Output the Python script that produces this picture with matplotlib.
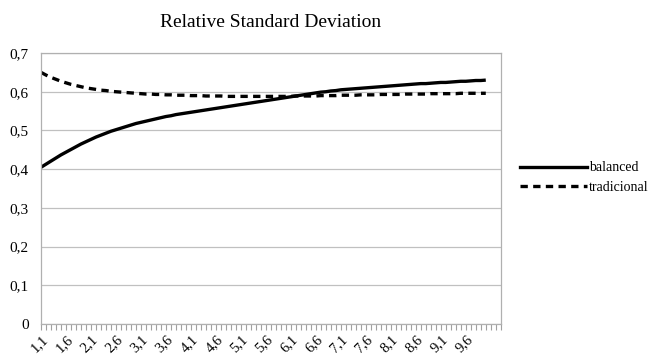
import matplotlib
matplotlib.use('Agg')
import matplotlib.pyplot as plt
from matplotlib.lines import Line2D

# -*- coding:utf-8 -*-

plt.rcParams['font.family'] = ['Liberation Serif', 'DejaVu Serif']

# categories 1,1 ... 10,0
categories = [('%.1f' % (k / 10.0)).replace('.', ',') for k in range(11, 101)]

balanced = [
    0.405, 0.413, 0.421, 0.429, 0.437, 0.444, 0.451, 0.458, 0.465, 0.471,
    0.477, 0.483, 0.488, 0.493, 0.498, 0.502, 0.506, 0.510, 0.514, 0.518,
    0.521, 0.524, 0.527, 0.530, 0.533, 0.536, 0.538, 0.541, 0.543, 0.545,
    0.547, 0.549, 0.551, 0.553, 0.555, 0.557, 0.559, 0.561, 0.563, 0.565,
    0.567, 0.569, 0.571, 0.573, 0.575, 0.577, 0.579, 0.581, 0.583, 0.585,
    0.587, 0.589, 0.591, 0.593, 0.595, 0.597, 0.599, 0.600, 0.602, 0.603,
    0.605, 0.606, 0.607, 0.608, 0.609, 0.610, 0.611, 0.612, 0.613, 0.614,
    0.615, 0.616, 0.617, 0.618, 0.619, 0.620, 0.621, 0.621, 0.622, 0.623,
    0.624, 0.624, 0.625, 0.626, 0.627, 0.627, 0.628, 0.629, 0.629, 0.630,
]

tradicional = [
    0.650, 0.643, 0.637, 0.632, 0.627, 0.623, 0.619, 0.616, 0.613, 0.610,
    0.608, 0.606, 0.604, 0.603, 0.601, 0.600, 0.599, 0.598, 0.597, 0.596,
    0.595, 0.594, 0.594, 0.593, 0.593, 0.592, 0.592, 0.591, 0.591, 0.591,
    0.590, 0.590, 0.590, 0.589, 0.589, 0.589, 0.589, 0.588, 0.588, 0.588,
    0.588, 0.588, 0.588, 0.588, 0.588, 0.588, 0.588, 0.588, 0.588, 0.588,
    0.588, 0.589, 0.589, 0.589, 0.589, 0.589, 0.590, 0.590, 0.590, 0.590,
    0.591, 0.591, 0.591, 0.591, 0.592, 0.592, 0.592, 0.592, 0.593, 0.593,
    0.593, 0.593, 0.593, 0.594, 0.594, 0.594, 0.594, 0.594, 0.595, 0.595,
    0.595, 0.595, 0.595, 0.595, 0.596, 0.596, 0.596, 0.596, 0.596, 0.596,
]

y_ticks = [0, 0.1, 0.2, 0.3, 0.4, 0.5, 0.6, 0.7]
y_labels = ['0', '0,1', '0,2', '0,3', '0,4', '0,5', '0,6', '0,7']

fig = plt.figure(figsize=(6.54, 3.63), dpi=100)
ax = fig.add_axes([0.0627, 0.107, 0.703, 0.747])

x = list(range(len(categories)))
ax.plot(x, balanced, color='black', linewidth=2.4, solid_capstyle='butt')
ax.plot(x, tradicional, color='black', linewidth=2.4, linestyle=(0, (2.2, 1.6)))

ax.set_xlim(0, 92)
ax.set_ylim(0, 0.7)

ax.set_yticks(y_ticks)
ax.set_yticklabels(y_labels, fontsize=11)
ax.tick_params(axis='y', length=0, pad=9)
ax.grid(axis='y', color='#c0c0c0', linewidth=0.9)
ax.set_axisbelow(True)

ax.set_xticks(range(0, 93))
ax.set_xticklabels([categories[i] if (i < len(categories) and i % 5 == 0) else '' for i in range(93)],
                   rotation=45, ha='right', rotation_mode='anchor', fontsize=10.5)
ax.tick_params(axis='x', length=4, color='#a0a0a0', width=0.8, pad=2)

for s in ax.spines.values():
    s.set_color('#b0b0b0')
    s.set_linewidth(0.9)

ax.set_title('Relative Standard Deviation', fontsize=14, pad=19)

handles = [Line2D([], [], color='black', linewidth=2.4),
           Line2D([], [], color='black', linewidth=2.4, linestyle=(0, (2.2, 1.6)))]
fig.legend(handles, ['balanced', 'tradicional'], loc='center left',
           bbox_to_anchor=(0.776, 0.51), frameon=False, fontsize=10,
           handlelength=4.8, handletextpad=0.15, labelspacing=0.5)

fig.savefig('out.png', dpi=100)
